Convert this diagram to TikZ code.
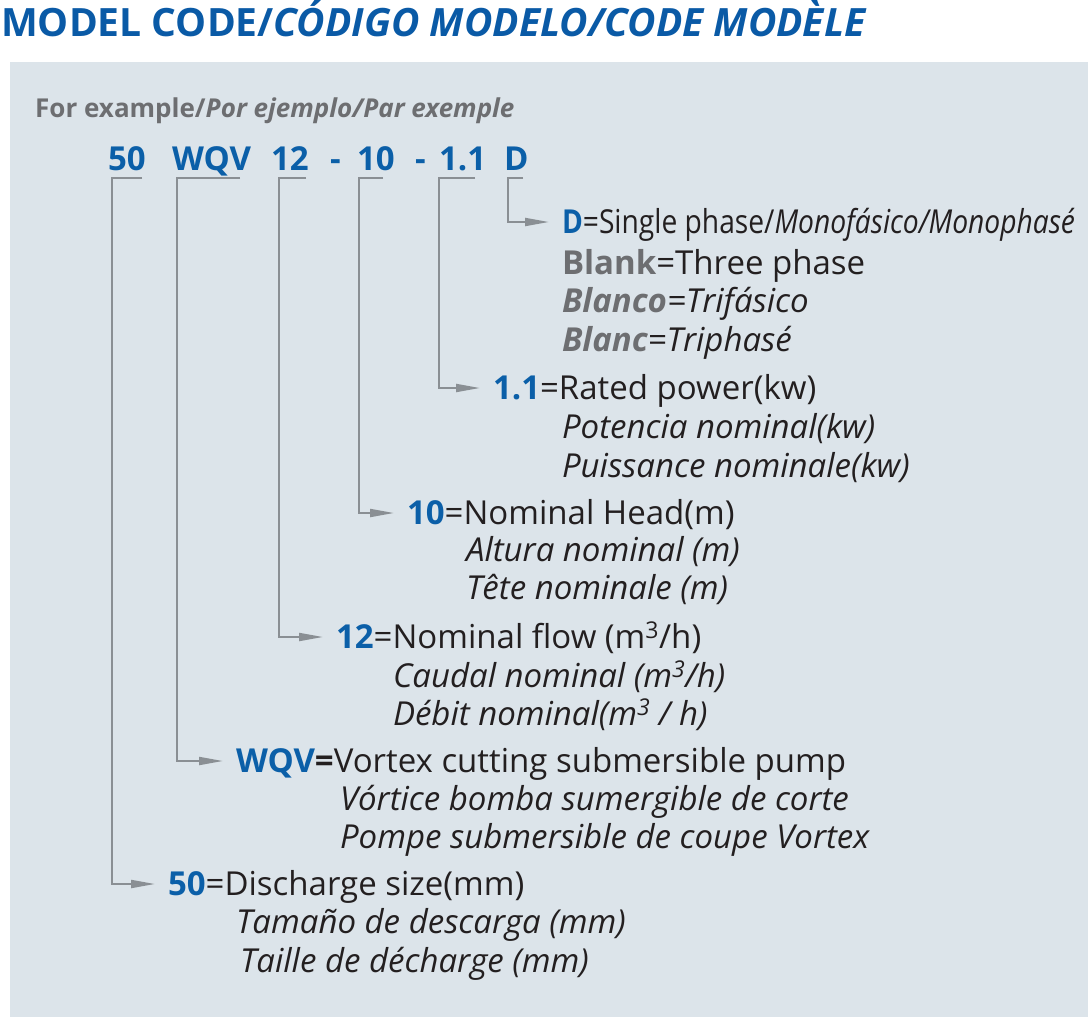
\documentclass[tikz,border=0pt]{standalone}
\usepackage{fontspec}
\setmainfont{Open Sans}
\usetikzlibrary{arrows.meta}
\definecolor{codeblue}{HTML}{0B5FA8}
\definecolor{titleblue}{HTML}{0A5AA6}
\definecolor{txt}{HTML}{231F20}
\definecolor{gtxt}{HTML}{6D6E71}
\definecolor{boxbg}{HTML}{DCE4EA}
\definecolor{linegray}{HTML}{8A8F94}
\newcommand\codeb[1]{\textcolor{codeblue}{\bfseries #1}}
\newcommand\grayb[1]{\textcolor{gtxt}{\bfseries #1}}
\begin{document}
\begin{tikzpicture}[x=1pt,y=-1pt,
  body/.style={inner sep=0pt, outer sep=0pt, anchor=base west, font=\fontsize{33}{33}\selectfont, text=txt},
  lbl/.style={inner sep=0pt, outer sep=0pt, anchor=west, text height=26pt, text depth=4pt, font=\fontsize{33}{33}\selectfont, text=txt},
  code/.style={inner sep=0pt, outer sep=0pt, anchor=base west, font=\fontsize{33}{33}\selectfont\bfseries, text=codeblue},
  conn/.style={draw=linegray, line width=2pt, -{Triangle[length=24pt,width=8pt]}, shorten >=13pt},
]
\useasboundingbox (0,0) rectangle (1088,1017);
\fill[boxbg] (10,62) rectangle (1088,1017);

% title
\node[inner sep=0pt, anchor=base west, text=titleblue, font=\fontsize{39}{39}\selectfont\bfseries] (title) at (1,36) {MODEL CODE/\itshape CÓDIGO MODELO/CODE MODÈLE};
\node[inner sep=0pt, anchor=base west, text=gtxt, font=\fontsize{26}{26}\selectfont\bfseries] (ex) at (35,117) {For example/\itshape Por ejemplo/Par exemple};

% code line
\node[code] (c50) at (108,170) {50};
\node[code] (cwqv) at (172,170) {WQV};
\node[code] (c12) at (271,170) {12};
\node[code] (h1) at (330,170) {-};
\node[code] (c10) at (357,170) {10};
\node[code] (h2) at (415,170) {-};
\node[code] (c11) at (439,170) {1.1};
\node[code] (cd) at (504,170) {D};

% bracket corners
\coordinate (s50) at (142,178);  \coordinate (k50) at (112,178);
\coordinate (swqv) at (240,178); \coordinate (kwqv) at (177,178);
\coordinate (s12) at (306,178);  \coordinate (k12) at (279,178);
\coordinate (s10) at (383,178);  \coordinate (k10) at (359,178);
\coordinate (s11) at (475,178);  \coordinate (k11) at (439,178);
\coordinate (sd) at (523,178);   \coordinate (kd) at (508,178);

% labels
\node[lbl] (ld) at (562,222) {\resizebox{513pt}{\height}{\codeb{D}=Single phase/\textit{Monofásico/Monophasé}}};
\node[body] (blank) at (562,274) {\grayb{Blank}=Three phase};
\node[body] (blanco) at (562,312) {\itshape\grayb{Blanco}=Trifásico};
\node[body] (blanc) at (562,351) {\itshape\grayb{Blanc}=Triphasé};

\node[lbl] (l11) at (493,388) {\codeb{1.1}=Rated power(kw)};
\node[body] (pot) at (562,438) {\itshape Potencia nominal(kw)};
\node[body] (pui) at (562,477) {\itshape Puissance nominale(kw)};

\node[lbl] (l10) at (407,513) {\codeb{10}=Nominal Head(m)};
\node[body] (alt) at (466,561) {\itshape Altura nominal (m)};
\node[body] (tet) at (466,599) {\itshape Tête nominale (m)};

\node[lbl] (l12) at (336,637) {\codeb{12}=Nominal flow (m\textsuperscript{3}/h)};
\node[body] (cau) at (393,687) {\itshape Caudal nominal (m\textsuperscript{3}/h)};
\node[body] (deb) at (393,725) {\itshape Débit nominal(m\textsuperscript{3} / h)};

\node[lbl] (lwqv) at (236,761) {\codeb{WQV}\textbf{=}Vortex cutting submersible pump};
\node[body] (vor) at (340,810) {\itshape Vórtice bomba sumergible de corte};
\node[body] (pom) at (340,848) {\itshape Pompe submersible de coupe Vortex};

\node[lbl] (l50) at (168,884) {\codeb{50}=Discharge size(mm)};
\node[body] (tam) at (236,933) {\itshape Tamaño de descarga (mm)};
\node[body] (tai) at (240,972) {\itshape Taille de décharge (mm)};

% connectors
\draw[conn] (s50) -- (k50) |- (l50);
\draw[conn] (swqv) -- (kwqv) |- (lwqv);
\draw[conn] (s12) -- (k12) |- (l12);
\draw[conn] (s10) -- (k10) |- (l10);
\draw[conn] (s11) -- (k11) |- (l11);
\draw[conn] (sd) -- (kd) |- (ld);
\end{tikzpicture}
\end{document}
